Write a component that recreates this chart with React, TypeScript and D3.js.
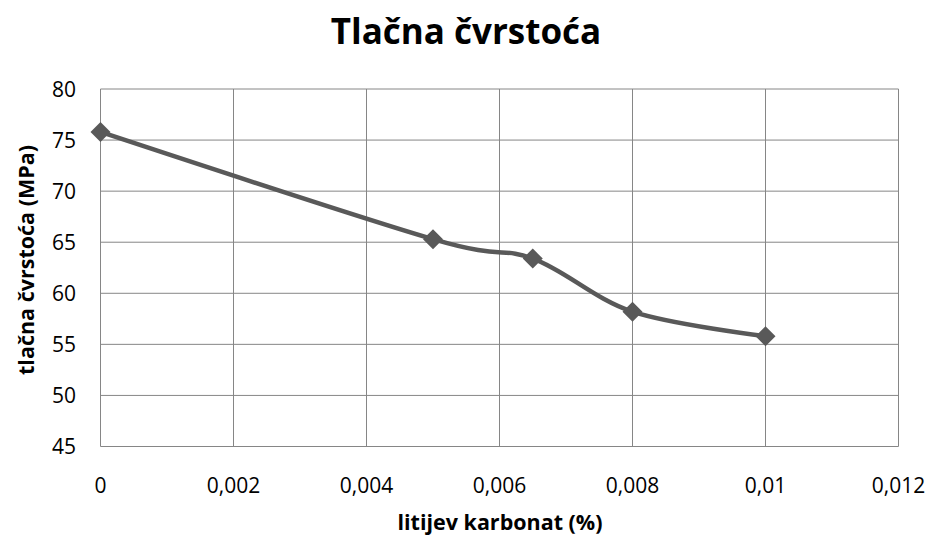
import React from "react";
import * as d3 from "d3";

const xValues = [0, 0.005, 0.0065, 0.008, 0.01];
const yValues = [75.8, 65.3, 63.4, 58.2, 55.8];
const xTicks = [0, 0.002, 0.004, 0.006, 0.008, 0.01, 0.012];
const yTicks = [45, 50, 55, 60, 65, 70, 75, 80];
const title = "Tlačna čvrstoća";
const xTitle = "litijev karbonat (%)";
const yTitle = "tlačna čvrstoća (MPa)";

const W = 933, H = 539;
const left = 100.5, right = 898.5, top = 89, bottom = 446.5;

export default function App() {
  const x = d3.scaleLinear().domain([0, 0.012]).range([left, right]);
  const y = d3.scaleLinear().domain([45, 80]).range([bottom, top]);
  const pts: [number, number][] = xValues.map((v, i) => [x(v), y(yValues[i])]);
  const line = d3.line().curve(d3.curveCatmullRom.alpha(0))(pts) || "";
  const fmt = (v: number) => String(v).replace(".", ",");
  const font = "'Open Sans', 'Liberation Sans', sans-serif";
  return (
    <svg width={W} height={H} style={{ position: "absolute", left: 0, top: 0, background: "#fff" }} fontFamily={font}>
      <rect x={0} y={0} width={W} height={H} fill="#fff" />
      <text x={466} y={44} textAnchor="middle" fontSize={35} fontWeight="bold" fill="#000">{title}</text>
      {yTicks.map((t) => (
        <g key={"y" + t}>
          <line x1={left} x2={right} y1={y(t)} y2={y(t)} stroke="#868686" strokeWidth={1} />
          <text x={76} y={y(t) + 7.5} textAnchor="end" fontSize={21} fill="#000">{t}</text>
        </g>
      ))}
      {xTicks.map((t) => (
        <g key={"x" + t}>
          <line x1={x(t)} x2={x(t)} y1={top} y2={bottom} stroke="#868686" strokeWidth={1} />
          <text x={x(t)} y={493} textAnchor="middle" fontSize={21} fill="#000">{fmt(t)}</text>
        </g>
      ))}
      <path d={line} fill="none" stroke="#595959" strokeWidth={4.5} strokeLinejoin="round" />
      {pts.map(([px, py], i) => (
        <path key={i} d={`M${px},${py - 10}L${px + 10},${py}L${px},${py + 10}L${px - 10},${py}Z`} fill="#595959" />
      ))}
      <text x={500} y={530} textAnchor="middle" fontSize={21.5} fontWeight="bold" fill="#000">{xTitle}</text>
      <text transform={`translate(34,260) rotate(-90)`} textAnchor="middle" fontSize={21.5} fontWeight="bold" fill="#000">{yTitle}</text>
    </svg>
  );
}
